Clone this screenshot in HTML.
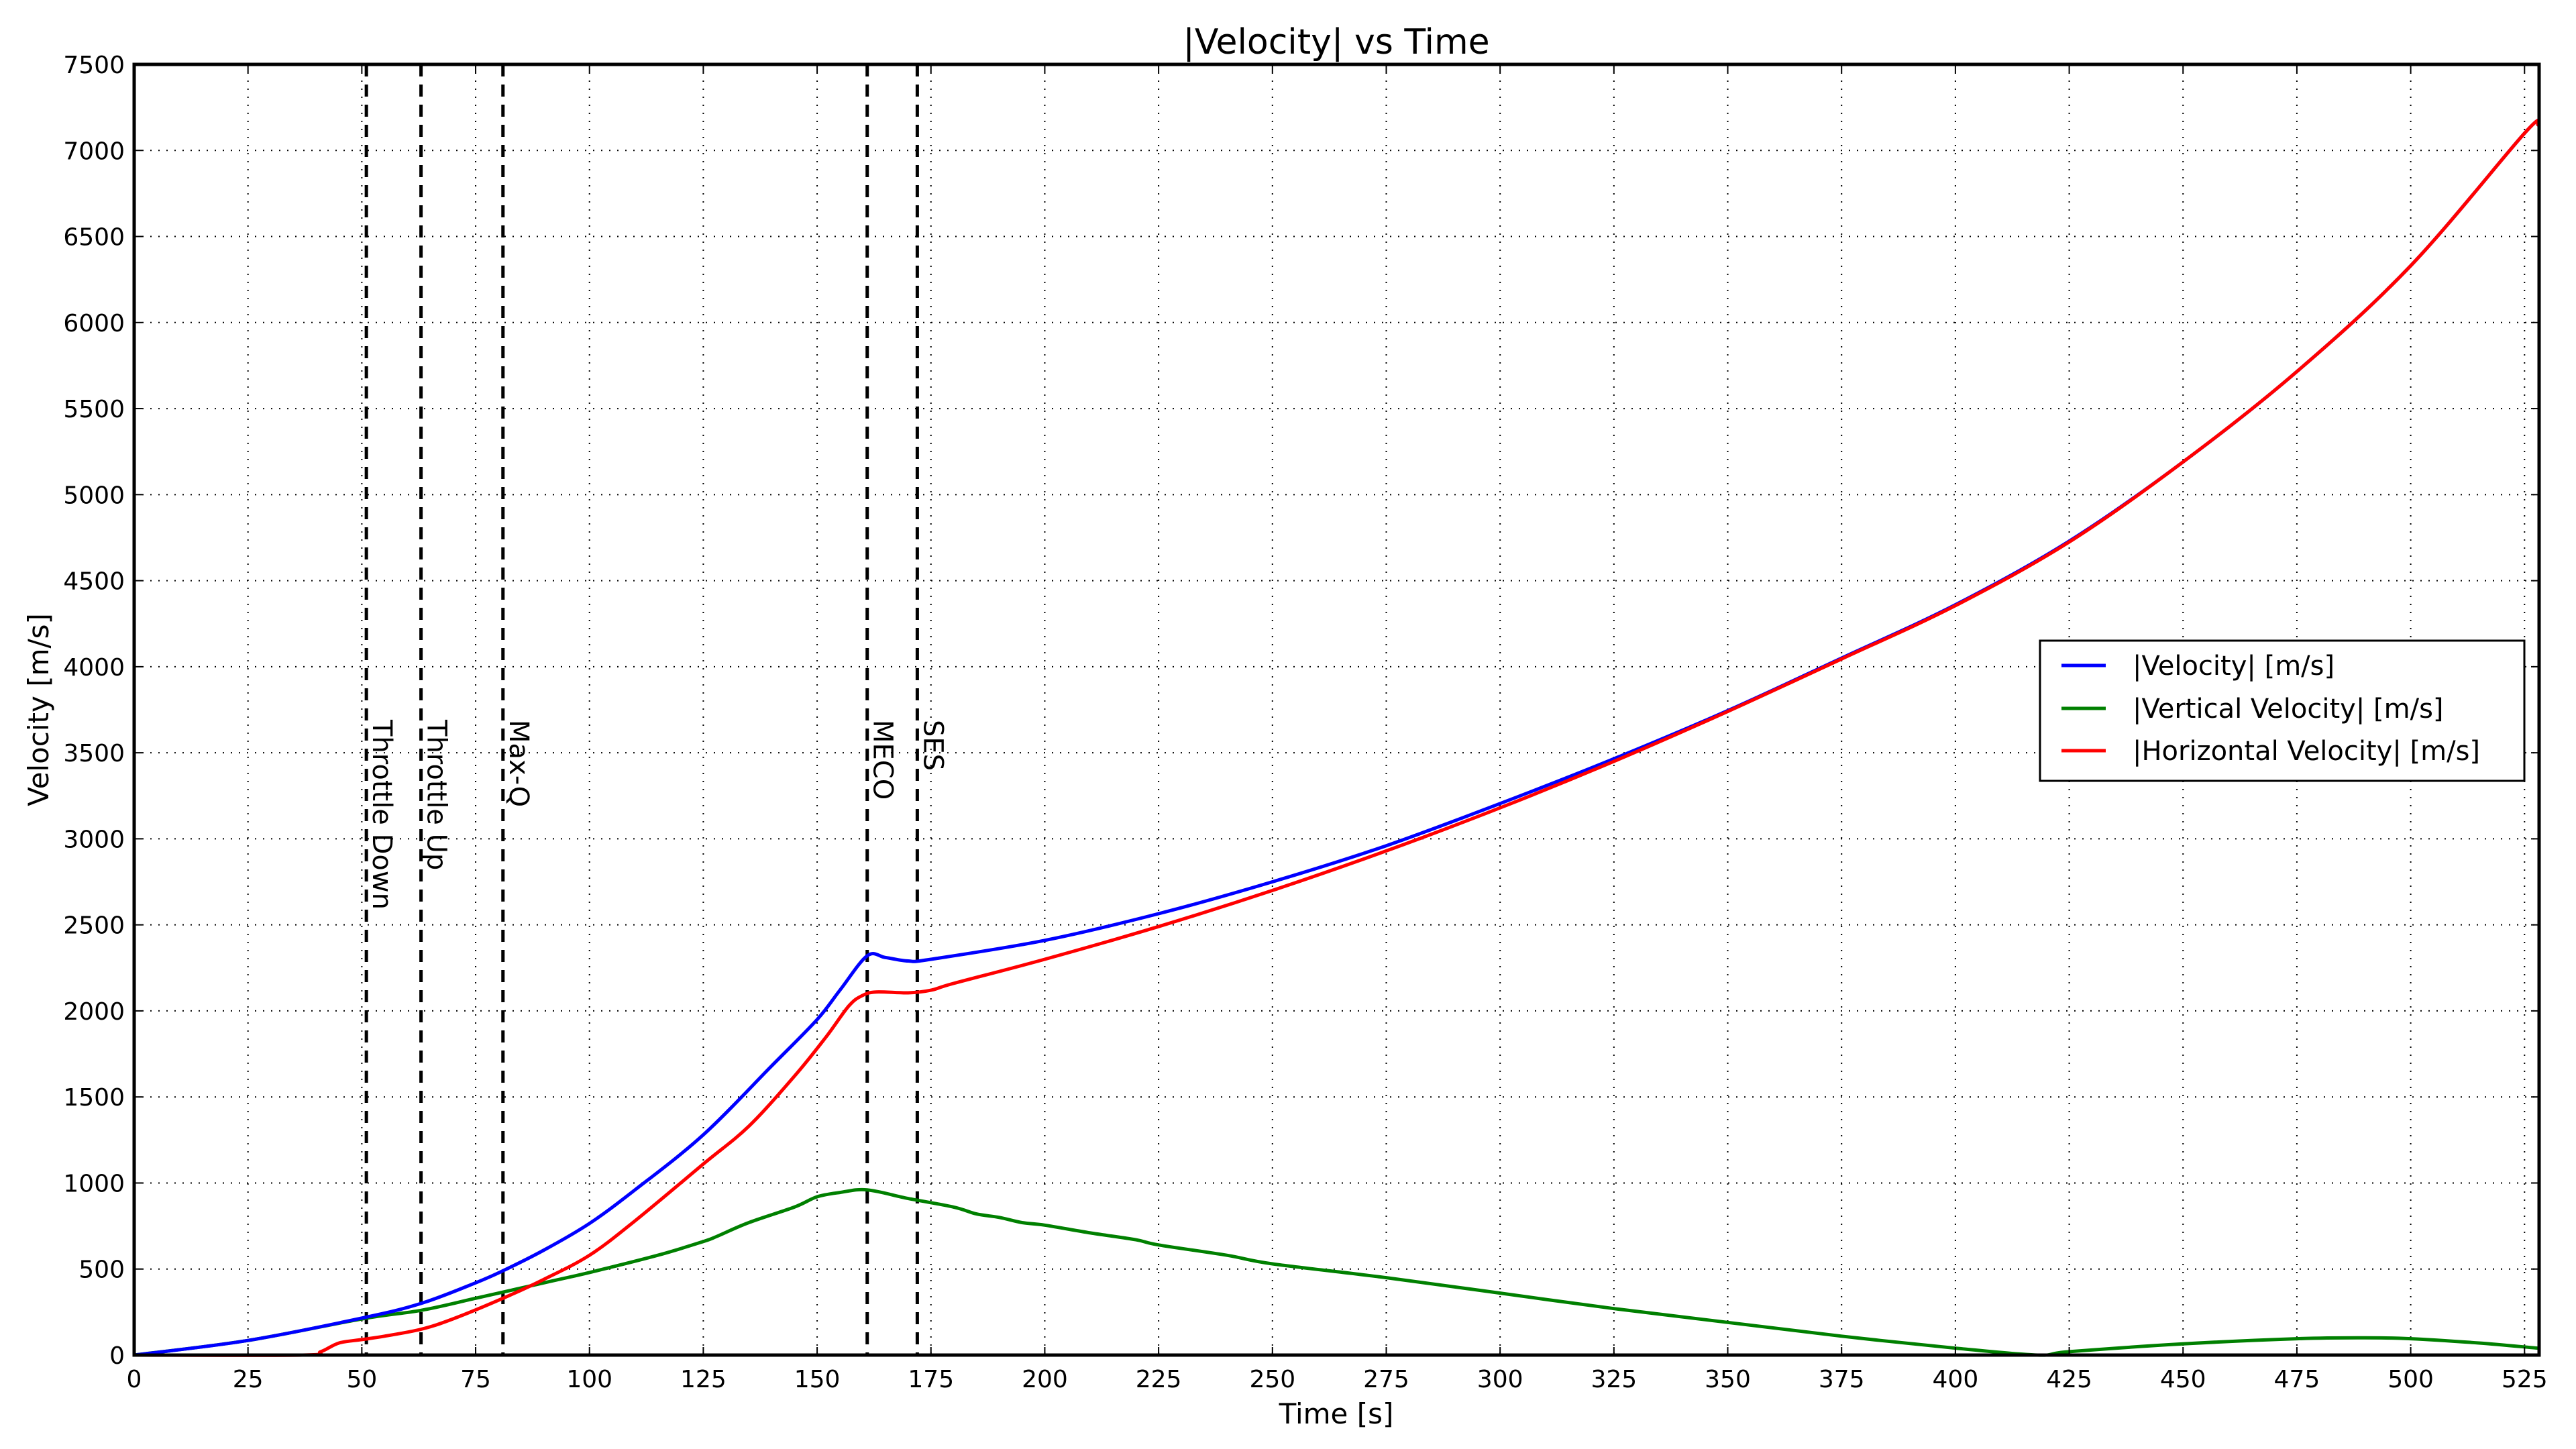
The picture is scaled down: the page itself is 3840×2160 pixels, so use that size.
<!DOCTYPE html>
<html><head><meta charset="utf-8"><style>
html,body{margin:0;padding:0;background:#fff;}
svg{display:block;font-family:"DejaVu Sans","Liberation Sans",sans-serif;}
</style></head><body>
<svg id="chart" width="3840" height="2160" viewBox="0 0 3840 2160" xmlns="http://www.w3.org/2000/svg">
<rect width="3840" height="2160" fill="#fff"/>
<text x="1992" y="80" font-size="52" text-anchor="middle">|Velocity| vs Time</text>
<text x="1992" y="2122" font-size="42" text-anchor="middle">Time [s]</text>
<text transform="translate(72,1058) rotate(-90)" font-size="42" text-anchor="middle">Velocity [m/s]</text>
<g id="grid"></g>
<g id="events"></g>
<g id="series"></g>
<g id="axes"></g>
<g transform="translate(-8,0)">
<rect x="3049" y="955" width="722" height="209" fill="#fff" stroke="#000" stroke-width="3"/>
<line x1="3081" y1="992" x2="3147" y2="992" stroke="#0000ff" stroke-width="5"/>
<text x="3187" y="1006" font-size="40">|Velocity| [m/s]</text>
<line x1="3081" y1="1056" x2="3147" y2="1056" stroke="#008000" stroke-width="5"/>
<text x="3187" y="1070" font-size="40">|Vertical Velocity| [m/s]</text>
<line x1="3081" y1="1119" x2="3147" y2="1119" stroke="#ff0000" stroke-width="5"/>
<text x="3187" y="1133" font-size="40">|Horizontal Velocity| [m/s]</text>
</g>
</svg>
<script>
const xTicks=[0,25,50,75,100,125,150,175,200,225,250,275,300,325,350,375,400,425,450,475,500,525];
const yTicks=[0,500,1000,1500,2000,2500,3000,3500,4000,4500,5000,5500,6000,6500,7000,7500];
const eventTimes=[51,63,81,161,172];
const eventLabels=["Throttle Down","Throttle Up","Max-Q","MECO","SES"];
const velT=[0,25,50,63,75,81,90,100,110,125,140,150,155,161,165,170,175,200,225,250,275,300,325,350,375,400,425,450,475,500,525,528];
const velV=[0,85,215,300,420,490,610,765,960,1280,1680,1950,2120,2320,2310,2290,2300,2410,2565,2750,2960,3205,3465,3745,4050,4360,4730,5190,5715,6330,7100,7150];
const vertT=[0,25,50,63,75,90,100,115,125,128,135,145,150,155,161,170,180,185,190,195,200,210,220,225,240,250,275,300,325,350,375,400,418,425,450,475,490,500,515,528];
const vertV=[0,85,210,260,330,420,480,580,660,690,770,860,920,945,960,910,860,820,800,770,755,710,670,640,580,530,450,360,270,190,110,40,0,20,65,95,100,95,70,40];
const horT=[0,37,41,45,50,55,63,70,81,90,100,110,125,135,145,152,157,160,163,170,175,180,200,225,250,275,300,325,350,375,400,425,450,475,500,525,528];
const horV=[0,0,20,70,90,110,150,210,330,440,580,780,1110,1330,1620,1850,2030,2090,2110,2105,2120,2160,2300,2490,2700,2930,3180,3450,3740,4045,4355,4725,5190,5715,6330,7100,7150];

const L=200,R=3785,T=96,B=2020,XMAX=528.2,YMAX=7500;
const X=t=>L+(t/XMAX)*(R-L);
const Y=v=>B-(v/YMAX)*(B-T);
const NS="http://www.w3.org/2000/svg";
function mk(tag,parent,attrs){const e=document.createElementNS(NS,tag);for(const k in attrs)e.setAttribute(k,attrs[k]);parent.appendChild(e);return e;}
const grid=document.getElementById('grid'),axes=document.getElementById('axes'),ser=document.getElementById('series'),ev=document.getElementById('events');
xTicks.forEach(t=>{
  const g=mk('line',grid,{x1:X(t),x2:X(t),y1:T,y2:B,stroke:'#000','stroke-width':2,'stroke-dasharray':'2,10'});
  
  
  mk('line',axes,{x1:X(t),x2:X(t),y1:B,y2:B-12,stroke:'#000','stroke-width':2});
  mk('line',axes,{x1:X(t),x2:X(t),y1:T,y2:T+12,stroke:'#000','stroke-width':2});
  const tx=mk('text',axes,{x:X(t),y:B+48,'font-size':36,'text-anchor':'middle'});
  tx.textContent=t;
  
  
});
yTicks.forEach(v=>{
  const g=mk('line',grid,{x1:L,x2:R,y1:Y(v),y2:Y(v),stroke:'#000','stroke-width':2,'stroke-dasharray':'2,10'});
  
  
  mk('line',axes,{x1:L,x2:L+12,y1:Y(v),y2:Y(v),stroke:'#000','stroke-width':2});
  mk('line',axes,{x1:R,x2:R-12,y1:Y(v),y2:Y(v),stroke:'#000','stroke-width':2});
  const tx=mk('text',axes,{x:L-14,y:Y(v)+13,'font-size':36,'text-anchor':'end'});
  tx.textContent=v;
  
  
});
eventTimes.forEach((t,i)=>{
  const l=mk('line',ev,{x1:X(t),x2:X(t),y1:T,y2:B,stroke:'#000','stroke-width':5,'stroke-dasharray':'18,12'});
  
  
  const tx=mk('text',ev,{transform:`translate(${X(t)+10},1073) rotate(90)`,'font-size':40});
  tx.textContent=eventLabels[i];
  
  
});
function line(ts,vs,color,name){
  const P=ts.map((t,i)=>[X(t),Y(vs[i])]);
  let d='M'+P[0][0].toFixed(1)+','+P[0][1].toFixed(1);
  for(let i=0;i<P.length-1;i++){
    const p0=P[Math.max(0,i-1)],p1=P[i],p2=P[i+1],p3=P[Math.min(P.length-1,i+2)];
    const c1=[p1[0]+(p2[0]-p0[0])/6,p1[1]+(p2[1]-p0[1])/6];
    const c2=[p2[0]-(p3[0]-p1[0])/6,p2[1]-(p3[1]-p1[1])/6];
    d+=' C'+c1[0].toFixed(1)+','+c1[1].toFixed(1)+' '+c2[0].toFixed(1)+','+c2[1].toFixed(1)+' '+p2[0].toFixed(1)+','+p2[1].toFixed(1);
  }
  const p=mk('path',ser,{d:d,fill:'none',stroke:color,'stroke-width':5,'stroke-linejoin':'round'});
  
  
}
line(vertT,vertV,'#008000','vertical-velocity-line');
line(velT,velV,'#0000ff','velocity-line');
line(horT,horV,'#ff0000','horizontal-velocity-line');
mk('rect',axes,{x:L,y:T,width:R-L,height:B-T,fill:'none',stroke:'#000','stroke-width':5});
</script>
</body></html>
